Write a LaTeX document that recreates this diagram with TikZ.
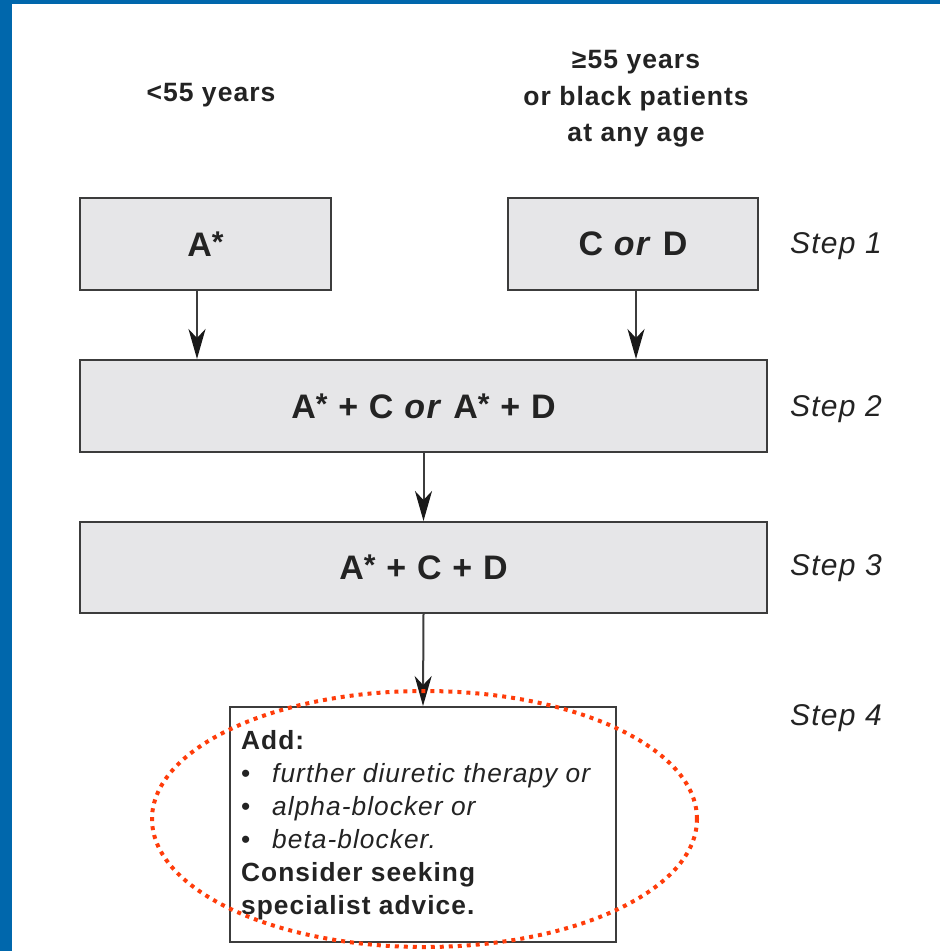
\documentclass[tikz,border=0pt]{standalone}
\usepackage{fontspec}
\setmainfont{Liberation Sans}[LetterSpace=4]
\usetikzlibrary{arrows.meta,calc}
\definecolor{frameblue}{RGB}{0,103,172}
\definecolor{boxgray}{RGB}{230,230,232}
\definecolor{linegray}{RGB}{60,60,60}
\definecolor{txt}{RGB}{35,35,35}
\definecolor{dotred}{RGB}{255,60,10}
\newcommand\starmark{\raisebox{4pt}{\fontsize{30}{30}\selectfont*}}
\begin{document}
\begin{tikzpicture}[x=1pt,y=-1pt,
  stepbox/.style={draw=linegray, line width=2pt, fill=boxgray, minimum height=92pt, inner sep=0pt, text=txt, font=\fontsize{34}{40}\selectfont\bfseries},
  steplabel/.style={anchor=west, inner sep=0pt, text=txt, font=\fontsize{30}{36}\selectfont\itshape},
  arr/.style={draw=linegray, line width=2pt, -{Stealth[length=30pt,width=17pt,inset=9pt,color=black!90]}},
  agelabel/.style={text=txt, inner sep=0pt, font=\fontsize{26.5}{36.5}\selectfont\bfseries, align=center}]
\useasboundingbox (0,0) rectangle (940,951);
\fill[white] (0,0) rectangle (940,951);
\fill[frameblue] (0,0) rectangle (12,951);
\fill[frameblue] (0,0) rectangle (940,4);

\node[agelabel] (young) at (211,95) {<55 years};
\node[agelabel] (old) at (636,99) {≥55 years\\or black patients\\at any age};

\node[stepbox, minimum width=251pt] (a) at (205.5,244) {A\starmark};
\node[stepbox, minimum width=250pt] (cd) at (633,244) {C \textit{or} D};
\node[stepbox, minimum width=687pt] (s2) at (423.5,406) {A\starmark{} + C \textit{or} A\starmark{} + D};
\node[stepbox, minimum width=687pt, minimum height=91pt] (s3) at (423.5,567.5) {A\starmark{} + C + D};
\node[draw=linegray, line width=2pt, fill=white, minimum width=386pt, minimum height=235pt, inner sep=0pt] (s4) at (423,824.5) {};
\node[anchor=north west, inner sep=0pt, text=txt, align=left, font=\fontsize{26.3}{33}\selectfont] (s4text) at (241,730)
  {\textbf{Add:}\\
   \makebox[31pt][l]{•}\textit{further diuretic therapy or}\\
   \makebox[31pt][l]{•}\textit{alpha-blocker or}\\
   \makebox[31pt][l]{•}\textit{beta-blocker.}\\
   \textbf{Consider seeking}\\
   \textbf{specialist advice.}};

\node[steplabel] (l1) at (790,246) {Step 1};
\node[steplabel] (l2) at (790,409) {Step 2};
\node[steplabel] (l3) at (790,568) {Step 3};
\node[steplabel] (l4) at (790,718) {Step 4};

\draw[arr] ([xshift=-8.5pt]a.south) -- ([xshift=-8.5pt]a.south |- s2.north);
\draw[arr] ([xshift=3pt]cd.south) -- ([xshift=3pt]cd.south |- s2.north);
\draw[arr] (s2.south) -- (s3.north);
\draw[arr] (s3.south) -- (s4.north);

\draw[dotred, line width=4pt, dash pattern=on 4pt off 5pt] (424.5,819) ellipse [x radius=272.5pt, y radius=128pt];
\end{tikzpicture}
\end{document}
